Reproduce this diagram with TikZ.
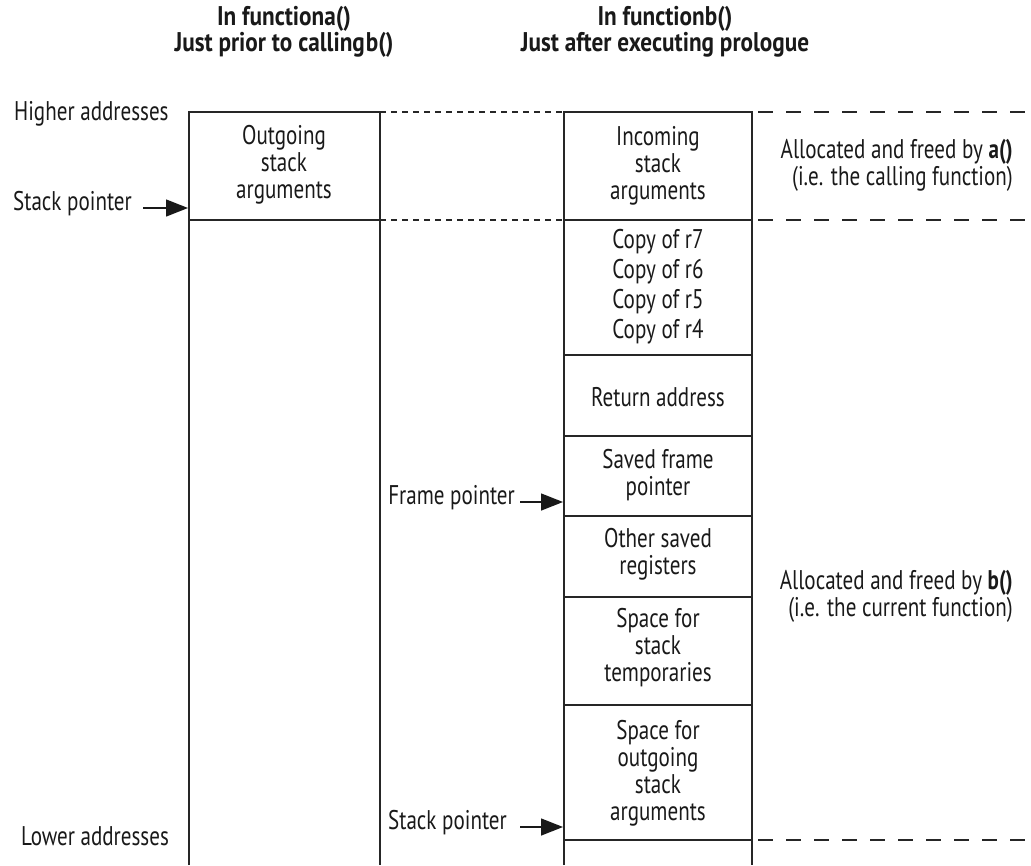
\documentclass[tikz,border=0pt]{standalone}
\usepackage{fontspec}
\setmainfont{PT Sans}[FakeStretch=0.78]
\newfontfamily\ttlfont{PT Sans}[FakeStretch=0.86]
\usetikzlibrary{arrows.meta}
\begin{document}
\begin{tikzpicture}[x=1pt,y=-1pt,
  lbl/.style={font=\fontsize{27}{27}\selectfont, inner sep=0pt, align=center, text=black!90},
  ttl/.style={font=\ttlfont\bfseries\fontsize{27}{23}\selectfont, inner sep=0pt, align=center, text=black!90},
  wall/.style={line width=1.5pt, draw=black!85},
  fine/.style={line width=1.3pt, draw=black!85, dash pattern=on 6pt off 5pt},
  coarse/.style={line width=1.3pt, draw=black!85, dash pattern=on 15pt off 13pt},
  ptr/.style={line width=1.4pt, draw=black!90, -{Triangle[length=22pt,width=17pt]}}]
\useasboundingbox (0,0) rectangle (1031,865);
% titles
\node[ttl] (ta) at (284,32) {In functiona()\\Just prior to calling\kern1pt b()};
\node[ttl] (tb) at (665,32) {In functionb()\\Just after executing prologue};
% left column
\draw[wall] (189,865) -- (189,112) -- (380,112) -- (380,865);
\draw[wall] (189,220) -- (380,220);
% right column
\draw[wall] (564,865) -- (564,112) -- (752,112) -- (752,865);
\foreach \yy in {220,355,436,516,597,705,840}
  \draw[wall] (564,\yy) -- (752,\yy);
% dashed guides
\draw[fine] (380,112) -- (564,112);
\draw[fine] (380,220) -- (564,220);
\draw[coarse] (758,112) -- (1031,112);
\draw[coarse] (758,220) -- (1031,220);
\draw[coarse] (758,840) -- (1031,840);
% side labels
\node[lbl, anchor=west] (hi) at (14,114) {Higher addresses};
\node[lbl, anchor=west] (lo) at (21,836) {Lower addresses};
\node[lbl, anchor=east] (sp1) at (132,204) {Stack pointer};
\node[lbl, anchor=east] (fp) at (515,498) {Frame pointer};
\node[lbl, anchor=east] (sp2) at (507,823) {Stack pointer};
\coordinate (sp1s) at (143,208);
\coordinate (sp1e) at (188,208);
\coordinate (fps) at (520,502);
\coordinate (fpe) at (563,502);
\coordinate (sp2s) at (520,827);
\coordinate (sp2e) at (563,827);
\draw[ptr] (sp1s) -- (sp1e);
\draw[ptr] (fps) -- (fpe);
\draw[ptr] (sp2s) -- (sp2e);
% cells
\node[lbl] (out) at (284,165) {Outgoing\\stack\\arguments};
\node[lbl] (inc) at (658,166) {Incoming\\stack\\arguments};
\node[lbl, font=\fontsize{27}{30}\selectfont] (cp) at (658,287) {Copy of r7\\Copy of r6\\Copy of r5\\Copy of r4};
\node[lbl] (ret) at (658,397) {Return address};
\node[lbl] (sfp) at (658,475) {Saved frame\\pointer};
\node[lbl] (osr) at (658,554) {Other saved\\registers};
\node[lbl] (tmp) at (658,648) {Space for\\stack\\temporaries};
\node[lbl] (osa) at (658,773) {Space for\\outgoing\\stack\\arguments};
% ownership notes
\node[lbl, align=right, anchor=east] (owa) at (1013,165) {Allocated and freed by \textbf{a()}\\(i.e. the calling function)};
\node[lbl, align=right, anchor=east] (owb) at (1013,596) {Allocated and freed by \textbf{b()}\\(i.e. the current function)};
\end{tikzpicture}
\end{document}
